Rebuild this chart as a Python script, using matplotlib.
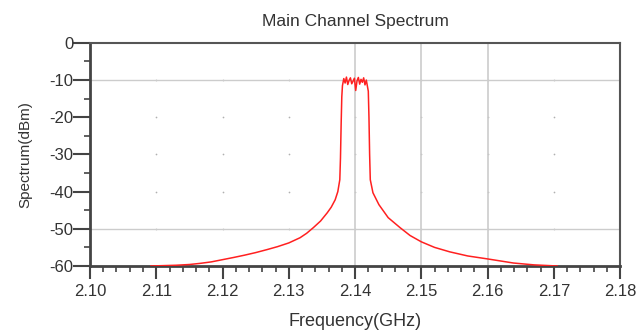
import matplotlib
matplotlib.use("Agg")
import matplotlib.pyplot as plt
import numpy as np

# spectrum
freq = [2.1092, 2.1130, 2.1150, 2.1166, 2.1183, 2.1200, 2.1217, 2.1233, 2.1250,
        2.1267, 2.1283, 2.1300, 2.1317, 2.1327, 2.1337, 2.1348, 2.1358, 2.1364,
        2.1370, 2.1374, 2.1377, 2.1378, 2.1379, 2.1380, 2.1381,
        2.1383, 2.1385, 2.1387, 2.1389, 2.1391, 2.1393, 2.1395, 2.1397, 2.1399,
        2.1401, 2.1403, 2.1405, 2.1407, 2.1409, 2.1411, 2.1413, 2.1415, 2.1417,
        2.1419, 2.1420, 2.1421, 2.1422, 2.1423, 2.1427, 2.1436, 2.1450, 2.1468,
        2.1483, 2.1500, 2.1520, 2.1543, 2.1570, 2.1600, 2.1639, 2.1670, 2.1705]
level = [-60.0, -59.8, -59.6, -59.3, -58.9, -58.3, -57.7, -57.1, -56.4,
         -55.6, -54.8, -53.8, -52.4, -51.2, -49.7, -47.9, -45.7, -44.2,
         -42.2, -40.0, -36.8, -31.0, -22.0, -14.5, -11.5,
         -9.6, -10.8, -9.2, -11.2, -10.1, -9.4, -11.0, -10.3, -9.5,
         -12.8, -10.2, -9.3, -11.1, -9.8, -10.6, -9.4, -11.3, -10.0,
         -12.0, -13.0, -20.0, -30.0, -36.8, -40.3, -43.5, -47.0, -49.7,
         -51.8, -53.5, -55.0, -56.2, -57.3, -58.1, -59.2, -59.7, -60.0]

xticks = [2.10, 2.11, 2.12, 2.13, 2.14, 2.15, 2.16, 2.17, 2.18]
yticks = [0, -10, -20, -30, -40, -50, -60]

plt.rcParams['font.family'] = ['Liberation Sans', 'DejaVu Sans']
txt = '#333333'

fig = plt.figure(figsize=(6.36, 3.35), dpi=100)
ax = fig.add_axes([0.1415, 0.206, 0.8335, 0.666])

# dotted grid at every intersection, full lines for a few
gx, gy = np.meshgrid(xticks[1:-1], yticks[1:-1])
ax.scatter(gx.ravel(), gy.ravel(), s=1.5, color='#b0b0b0', zorder=1, linewidths=0)
for yv in [-10, -50]:
    ax.axhline(yv, color='#cccccc', lw=1.0, zorder=1)
for xv in [2.14, 2.15, 2.16]:
    ax.axvline(xv, color='#cccccc', lw=1.2, zorder=1)

ax.plot(freq, level, color='#ff2020', lw=1.1, zorder=3)

ax.set_xlim(2.10, 2.18)
ax.set_ylim(-60, 0)
ax.set_xticks(xticks)
ax.set_xticklabels(['%.2f' % v for v in xticks])
ax.set_yticks(yticks)
ax.set_yticklabels([str(v) for v in yticks])
ax.set_xticks(np.arange(2.10, 2.1801, 0.002), minor=True)
ax.set_yticks(np.arange(-60, 0.1, 5), minor=True)
ax.tick_params(which='major', direction='out', width=1.5, color='#444444',
               labelsize=12, labelcolor=txt)
ax.tick_params(axis='x', which='major', length=9, pad=4)
ax.tick_params(axis='y', which='major', length=12, pad=0)
ax.tick_params(which='minor', direction='out', length=4, width=1.2, color='#444444')

ax.spines['left'].set_linewidth(2.0)
ax.spines['bottom'].set_linewidth(2.0)
ax.spines['left'].set_color('#444444')
ax.spines['bottom'].set_color('#444444')
for s in ['top', 'right']:
    ax.spines[s].set_linewidth(1.5)
    ax.spines[s].set_color('#555555')

ax.set_title('Main Channel Spectrum', fontsize=12.5, color=txt, pad=12)
ax.set_xlabel('Frequency(GHz)', fontsize=13, color=txt, labelpad=10)
ax.set_ylabel('Spectrum(dBm)', fontsize=11, color=txt, labelpad=12)

fig.savefig('out.png', dpi=100)
